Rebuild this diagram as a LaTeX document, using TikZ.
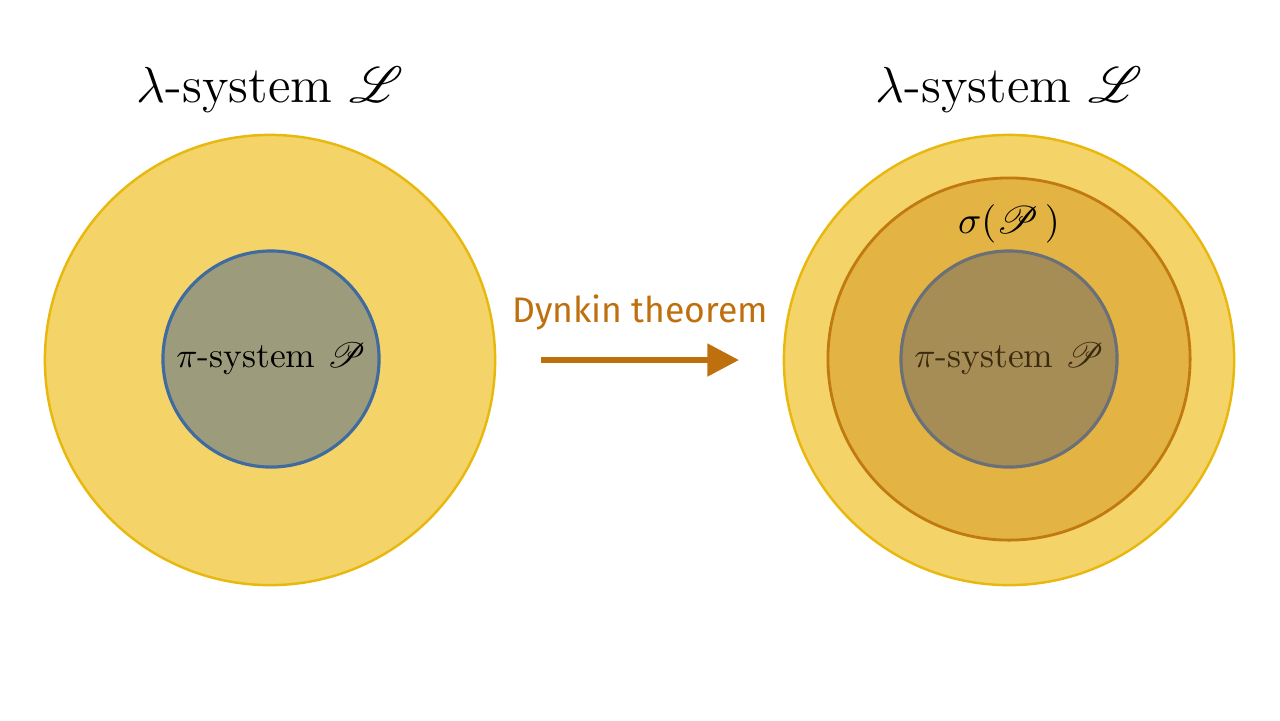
\documentclass[tikz,border=0pt]{standalone}
\usepackage{fontspec}
\usepackage{mathrsfs}
\newfontfamily\dynfont{Fira Sans}
\usetikzlibrary{arrows.meta}
\definecolor{outerfill}{HTML}{F4D469}
\definecolor{outerdraw}{HTML}{E8B80F}
\definecolor{innerLfill}{HTML}{9C9C7D}
\definecolor{innerLdraw}{HTML}{3F6B9F}
\definecolor{midfill}{HTML}{E3B444}
\definecolor{middraw}{HTML}{C07A10}
\definecolor{innerRfill}{HTML}{A68C55}
\definecolor{innerRdraw}{HTML}{6B7078}
\definecolor{innerRtext}{HTML}{3A2A10}
\definecolor{arrowcol}{HTML}{BF700E}
\newlength{\pxu}
\setlength{\pxu}{0.2845pt}
\tikzset{
  outerc/.style={circle, fill=outerfill, draw=outerdraw, line width=0.7pt, minimum size=450\pxu, inner sep=0pt},
  midc/.style={circle, fill=midfill, draw=middraw, line width=0.8pt, minimum size=362\pxu, inner sep=0pt},
  innerc/.style={circle, line width=0.9pt, minimum size=216\pxu, inner sep=0pt, font=\fontsize{10.1}{12}\selectfont},
  titletext/.style={font=\fontsize{14.6}{17}\selectfont},
}
\begin{document}
\begin{tikzpicture}[x=0.01cm,y=-0.01cm]
\useasboundingbox (0,0) rectangle (1280,720);
\node[outerc] (Lout) at (270,360) {};
\node[innerc, fill=innerLfill, draw=innerLdraw] (Lin) at (271,359) {$\pi$-system $\mathscr{P}$};
\node[titletext] (Ltitle) at (270,90) {$\lambda$-system $\mathscr{L}$};

\node[outerc] (Rout) at (1009,360) {};
\node[midc] (Rmid) at (1009,359) {};
\node[innerc, fill=innerRfill, draw=innerRdraw, text=innerRtext] (Rin) at (1009,359) {$\pi$-system $\mathscr{P}$};
\node[titletext] (Rtitle) at (1009,90) {$\lambda$-system $\mathscr{L}$};
\node[font=\fontsize{10.8}{13}\selectfont] (sig) at (1009,224) {$\sigma(\mathscr{P}\,)$};

\coordinate (a1) at (541,360);
\coordinate (a2) at (739,360);
\draw[arrowcol, line width=1.7pt, -{Triangle[length=9pt,width=9pt]}] (a1) -- (a2);
\node[text=arrowcol, font=\dynfont\fontsize{10.1}{12}\selectfont] (dyn) at (640,312) {Dynkin theorem};
\end{tikzpicture}
\end{document}
